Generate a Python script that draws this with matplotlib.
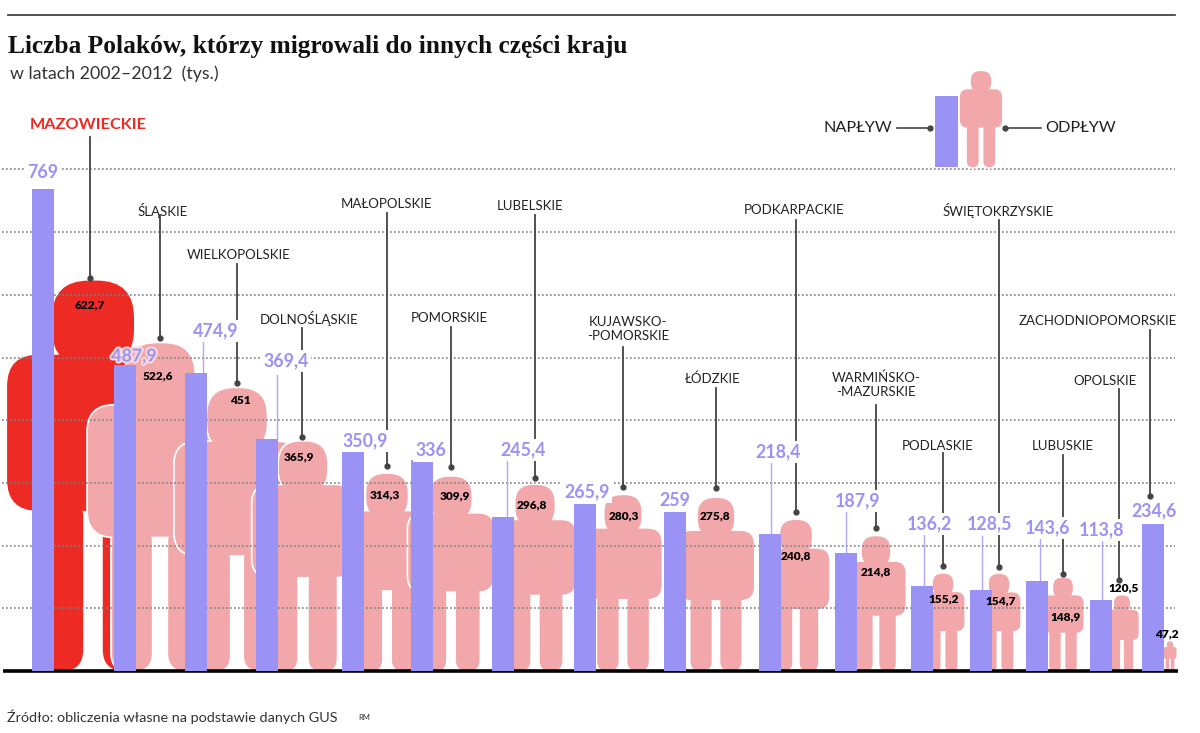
# -*- coding: utf-8 -*-
import matplotlib
matplotlib.use('Agg')
import matplotlib.pyplot as plt
import matplotlib.patheffects as pe
from matplotlib.patches import FancyBboxPatch

#======================================
#           data
#======================================
regions = ['MAZOWIECKIE', 'ŚLĄSKIE', 'WIELKOPOLSKIE', 'DOLNOŚLĄSKIE', 'MAŁOPOLSKIE',
           'POMORSKIE', 'LUBELSKIE', 'KUJAWSKO-\n-POMORSKIE', 'ŁÓDZKIE', 'PODKARPACKIE',
           'WARMIŃSKO-\n-MAZURSKIE', 'PODLASKIE', 'ŚWIĘTOKRZYSKIE', 'LUBUSKIE',
           'OPOLSKIE', 'ZACHODNIOPOMORSKIE']
inflow  = [769, 487.9, 474.9, 369.4, 350.9, 336, 245.4, 265.9, 259, 218.4,
           187.9, 136.2, 128.5, 143.6, 113.8, 234.6]
outflow = [622.7, 522.6, 451, 365.9, 314.3, 309.9, 296.8, 280.3, 275.8, 240.8,
           214.8, 155.2, 154.7, 148.9, 120.5, 47.2]

#======================================
#           layout (pixels)
#======================================
bar_x    = [43, 125, 196, 267, 353, 422, 503, 585, 675, 770, 846, 922, 981, 1037, 1101, 1153]
person_x = [93, 160, 237, 303, 387, 451, 535, 623, 716, 796, 876, 943, 999, 1063, 1122, 1170]

in_lab   = [(43, 172), (134, 356), (216, 331), (286, 361), (365, 441), (431, 451), (523, 450),
            (587, 492), (675, 501), (778, 452), (858, 501), (929, 524), (990, 524), (1048, 528),
            (1102, 530), (1154, 511)]
out_lab  = [(90, 305), (158, 376), (240, 400), (299, 457), (385, 495), (455, 496), (532, 505),
            (624, 516), (715, 516), (796, 556), (876, 572), (944, 599), (1001, 601), (1066, 617),
            (1124, 588), (1167, 634)]
name_lab = [(88, 125), (163, 210), (239, 255), (309, 319), (387, 204), (449, 318), (530, 206),
            (628, 329), (713, 379), (794, 210), (876, 385), (938, 446), (998, 211), (1063, 446),
            (1105, 381), (1098, 321)]
# leader lines: x, top, end (dot)
leaders  = [(90, 137, 278), (160, 215, 338), (237, 264, 383), (302, 328, 437), (387, 213, 466),
            (451, 327, 467), (535, 215, 478), (623, 347, 487), (716, 388, 488), (796, 220, 512),
            (876, 405, 528), (943, 453, 566), (999, 220, 567), (1063, 455, 574), (1119, 389, 580),
            (1150, 330, 496)]
# thin stems between a bar and its label: index, x, top
stems    = [(2, 203, 340), (3, 277, 375), (6, 507, 460), (9, 771, 462), (10, 846, 511),
            (11, 924, 535), (12, 982, 536), (13, 1040, 537), (14, 1102, 541)]

c_blue, c_pink, c_red = '#9b92f5', '#f2a8ab', '#ee2a24'
c_text, c_line, c_grid = '#222222', '#444444', '#808080'
f_px  = 0.627       # pixels per 1 tys.
i_top = 671         # pixel row of value 0

def py( px):
    return (i_top - px)/f_px

#======================================
#           figure
#======================================
plt.rcParams['font.family'] = ['Lato', 'DejaVu Sans']
fig = plt.figure( figsize = (12, 7.33), dpi = 100)
ax  = fig.add_axes( [0, 0, 1, 1])
ax.set_xlim( 0, 1200)
ax.set_ylim( py( 733), py( 0))
ax.axis( 'off')

def round_box( x0, y0, w, h, r, col, z, edge = False):
    # x0, w and r in pixels, y0 and h in value units
    p = FancyBboxPatch( (x0, y0), w, h,
                        boxstyle = 'round,pad=0,rounding_size=%.3f'%r,
                        mutation_aspect = 1/f_px, facecolor = col,
                        edgecolor = 'white' if edge else 'none',
                        linewidth = 2.5 if edge else 0, zorder = z)
    ax.add_patch( p)

def draw_person( cx, val, col, z, base = 0):
    H   = val*f_px
    gap = .05*H
    leg = .122*H
    for edge, zz in ((True, z), (False, z + .005)):
        round_box( cx - .105*H, base + .78*val, .21*H, .22*val, .095*H, col, zz, edge)
        round_box( cx - .22*H, base + .41*val, .44*H, .40*val, .08*H, col, zz, edge)
        round_box( cx - gap/2 - leg, base, leg, .45*val, .055*H, col, zz, edge)
        round_box( cx + gap/2, base, leg, .45*val, .055*H, col, zz, edge)

def leader( x, y0, y1):
    ax.plot( [x, x], [py( y0), py( y1)], color = c_line, lw = 1.3, zorder = 6)
    ax.plot( [x], [py( y1)], 'o', color = c_line, ms = 3.5, zorder = 6)

#------------grid and axis-------------
ax.hlines( range( 100, 900, 100), 2, 1175, color = c_grid, lw = 1.2,
           linestyles = (0, (1, 1.4)), zorder = 3)
ax.hlines( 0, 3, 1178, color = 'black', lw = 2.6, zorder = 4)

#------------people and bars-----------
for i, val in enumerate( outflow):
    draw_person( person_x[i], val, c_red if i == 0 else c_pink, 2 + i*.01)

ax.bar( bar_x, inflow, width = 22.5, color = c_blue, zorder = 5)

for i, x, top in stems:
    ax.plot( [x, x], [inflow[i], py( top)], color = c_blue, lw = 1, alpha = .8, zorder = 5)

#------------labels--------------------
for x, y0, y1 in leaders:
    leader( x, y0, y1)

for i, name in enumerate( regions):
    x, y = name_lab[i]
    if i == 0:
        ax.text( x, py( y), name, color = c_red, fontsize = 11.7, fontweight = 'bold',
                 ha = 'center', va = 'center', zorder = 8)
    else:
        ax.text( x, py( y), name, color = c_text, fontsize = 9.5, ha = 'center', va = 'center',
                 linespacing = 1.25, zorder = 8)

for i, val in enumerate( inflow):
    x, y = in_lab[i]
    s_val = ('%g'%val).replace( '.', ',')
    bbox = None if i == 1 else dict( facecolor = 'white', edgecolor = 'none', pad = 1.5)
    txt = ax.text( x, py( y), s_val, color = c_blue, fontsize = 12.8, fontweight = 'bold',
                   ha = 'center', va = 'center', bbox = bbox, zorder = 7)
    if i == 1:
        # this one sits on the pink figure, needs a pale halo
        txt.set_path_effects( [pe.withStroke( linewidth = 3, foreground = '#f8d8da')])

for i, val in enumerate( outflow):
    x, y = out_lab[i]
    s_val = ('%g'%val).replace( '.', ',')
    ax.text( x, py( y), s_val, color = 'black', fontsize = 8.6, fontweight = 'heavy',
             ha = 'center', va = 'center', zorder = 8)

#------------legend--------------------
ax.bar( [946.5], [113], width = 22.5, bottom = py( 167), color = c_blue, zorder = 5)
draw_person( 981, 153, c_pink, 4.5, base = py( 167))
ax.plot( [897, 930], [py( 128), py( 128)], color = c_line, lw = 1.2, zorder = 6)
ax.plot( [930], [py( 128)], 'o', color = c_line, ms = 3.5, zorder = 6)
ax.plot( [1005, 1041], [py( 128), py( 128)], color = c_line, lw = 1.2, zorder = 6)
ax.plot( [1005], [py( 128)], 'o', color = c_line, ms = 3.5, zorder = 6)
ax.text( 858, py( 128), 'NAPŁYW', color = c_text, fontsize = 11.7, ha = 'center', va = 'center')
ax.text( 1081, py( 128), 'ODPŁYW', color = c_text, fontsize = 11.7, ha = 'center', va = 'center')

#------------head and foot-------------
ax.plot( [8, 1175], [py( 15), py( 15)], color = '#333333', lw = 1.2)
ax.text( 8, py( 47), 'Liczba Polaków, którzy migrowali do innych części kraju',
         family = ['Liberation Serif', 'DejaVu Serif'], fontweight = 'bold', fontsize = 18.3,
         color = '#111111', ha = 'left', va = 'center')
ax.text( 10, py( 74), 'w latach 2002–2012  (tys.)', fontsize = 12.8, color = '#333333',
         ha = 'left', va = 'center')
ax.text( 7, py( 717), 'Źródło: obliczenia własne na podstawie danych GUS', fontsize = 10.4,
         color = '#333333', ha = 'left', va = 'center')
ax.text( 358, py( 718), 'RM', fontsize = 5.5, color = '#333333', ha = 'left', va = 'center')

fig.savefig( 'out.png', dpi = 100)
